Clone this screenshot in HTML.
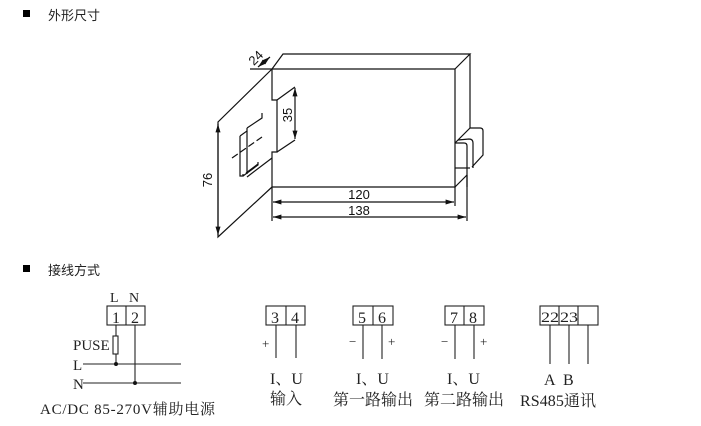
<!DOCTYPE html>
<html><head><meta charset="utf-8"><style>
html,body{margin:0;padding:0;background:#fff;}
svg{display:block;}
.s{font-family:"Liberation Serif","Noto Serif CJK SC",serif;fill:#222;}
.a{font-family:"Liberation Sans",sans-serif;fill:#111;}
.c{font-family:"Liberation Sans","Noto Sans CJK SC",sans-serif;fill:#222;}
</style></head><body>
<svg width="701" height="426" viewBox="0 0 701 426" xmlns="http://www.w3.org/2000/svg">
<defs>
<marker id="ar" viewBox="0 0 10 10" refX="10" refY="5" markerWidth="7" markerHeight="7" orient="auto-start-reverse"><path d="M0,2 L10,5 L0,8 z" fill="#111"/></marker>
</defs>
<rect x="23" y="10" width="7" height="7" fill="#000"/>
<text x="48" y="20" class="c" font-size="13">外形尺寸</text>
<rect x="23" y="265" width="7" height="7" fill="#000"/>
<text x="48" y="275" class="c" font-size="13">接线方式</text>

<g stroke="#111" stroke-width="1.2" fill="none">
<path d="M272,69 L455,69 L455,187 L272,187"/>
<path d="M250,69 L272,69 L283,54 L470,54 L455,69"/>
<path d="M470,54 L470,128"/>
<path d="M455,187 L467,175"/>
<path d="M272,69 L272,100 L277,100 L277,152 L272,152 L272,187"/>
<path d="M470,128 L480,128 Q483,128 483,131 L483,155 L472,167"/>
<path d="M455,143 L470,128"/>
<path d="M455,143 L464,143 Q467,143 467,146 L467,187"/>
<path d="M458,140 L469,139 Q473,139 473,143 L473,168"/>
<path d="M455,168 L470,168"/>
<path d="M272,69 L218,122 L218,237 L272,187"/>
<path d="M277,100 L295,87"/>
<path d="M277,152 L295,140"/>
<path d="M247,128 L262,118 L262,113"/>
<path d="M240,136 L247,131 L247,128"/>
<path d="M240,136 L240,176 L243,176 L243,174"/>
<path d="M247,177 L272,158"/>
<path d="M243,176 L258,165 L258,162"/>
<path d="M246,173 L258,164"/>
<path d="M232,158 L262,137" stroke-dasharray="7,3"/>
<path d="M247,131 L247,174"/>
<path d="M218,124 L218,235" marker-start="url(#ar)" marker-end="url(#ar)"/>
<path d="M295,88 L295,139" marker-start="url(#ar)" marker-end="url(#ar)"/>
<path d="M272,187 L272,221 M455,187 L455,206 M467,175 L467,221"/>
<path d="M273,202 L454,202" marker-start="url(#ar)" marker-end="url(#ar)"/>
<path d="M273,217 L466,217" marker-start="url(#ar)" marker-end="url(#ar)"/>
<path d="M258,67 L270,57" marker-start="url(#ar)" marker-end="url(#ar)"/>
</g>
<text x="359" y="199" class="a" font-size="13" text-anchor="middle">120</text>
<text x="359" y="215" class="a" font-size="13" text-anchor="middle">138</text>
<text class="a" font-size="13" transform="translate(212,180) rotate(-90)" text-anchor="middle">76</text>
<text class="a" font-size="13" transform="translate(292,115) rotate(-90)" text-anchor="middle">35</text>
<text class="a" font-size="13" transform="translate(259,61) rotate(-45)" text-anchor="middle">24</text>

<g stroke="#222" stroke-width="1.1" fill="none">
<rect x="107" y="306" width="38" height="19"/><path d="M126,306 V325"/>
<path d="M116,325 V364 M135,325 V383"/>
<rect x="113" y="336" width="5" height="18" fill="#fff"/>
<path d="M83,364 H181 M83,383 H181"/>
<rect x="266" y="306" width="39" height="19"/><path d="M286,306 V325"/>
<path d="M276,325 V358 M296,325 V358"/>
<rect x="353" y="306" width="40" height="19"/><path d="M373,306 V325"/>
<path d="M363,325 V359 M382,325 V359"/>
<rect x="445" y="306" width="39" height="19"/><path d="M464,306 V325"/>
<path d="M455,325 V359 M474,325 V359"/>
<rect x="540" y="306" width="58" height="19"/><path d="M559,306 V325 M578,306 V325"/>
<path d="M550,325 V364 M569,325 V364 M588,325 V364"/>
</g>
<circle cx="116" cy="364" r="2" fill="#111"/><circle cx="135" cy="383" r="2" fill="#111"/>
<g class="s" font-size="16">
<text x="110" y="302" font-size="14">L</text><text x="129" y="302" font-size="14">N</text>
<text x="112" y="323">1</text><text x="131" y="323">2</text>
<text x="73" y="350" font-size="15">PUSE</text><text x="73" y="370" font-size="15">L</text><text x="73" y="389" font-size="15">N</text>
<text x="40" y="414" font-size="15" textLength="175" lengthAdjust="spacing">AC/DC 85-270V辅助电源</text>
<text x="271" y="323">3</text><text x="291" y="323">4</text>
<text x="358" y="323">5</text><text x="378" y="323">6</text>
<text x="450" y="323">7</text><text x="469" y="323">8</text>
<text x="541" y="322" font-size="15" textLength="18" lengthAdjust="spacingAndGlyphs">22</text><text x="560" y="322" font-size="15" textLength="18" lengthAdjust="spacingAndGlyphs">23</text>
<text x="262" y="348" font-size="13">+</text>
<text x="349" y="346" font-size="13">−</text><text x="388" y="346" font-size="13">+</text>
<text x="441" y="346" font-size="13">−</text><text x="480" y="346" font-size="13">+</text>
<text x="270" y="384">I、U</text><text x="270" y="404">输入</text>
<text x="356" y="384">I、U</text><text x="333" y="405">第一路输出</text>
<text x="447" y="384">I、U</text><text x="424" y="405">第二路输出</text>
<text x="544" y="385">A</text><text x="563" y="385">B</text>
<text x="520" y="406" textLength="76" lengthAdjust="spacing">RS485通讯</text>
</g>
</svg>
</body></html>
